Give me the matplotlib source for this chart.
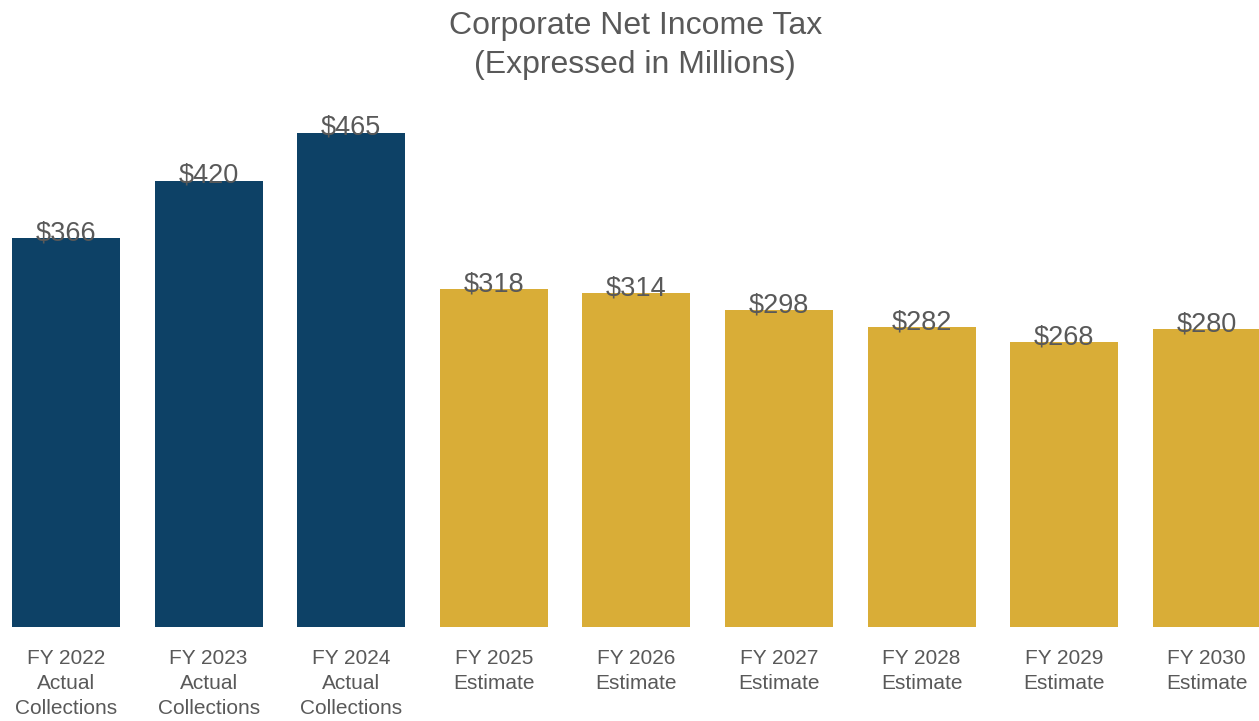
import matplotlib
matplotlib.use("Agg")
import matplotlib.pyplot as plt

# Corporate net income tax collections and estimates, in millions of dollars
years = ["FY 2022", "FY 2023", "FY 2024", "FY 2025", "FY 2026",
         "FY 2027", "FY 2028", "FY 2029", "FY 2030"]
kinds = ["Actual\nCollections", "Actual\nCollections", "Actual\nCollections",
         "Estimate", "Estimate", "Estimate", "Estimate", "Estimate", "Estimate"]
values = [366, 420, 465, 318, 314, 298, 282, 268, 280]
is_actual = [True, True, True, False, False, False, False, False, False]

ACTUAL_COLOR = "#0D4166"
ESTIMATE_COLOR = "#D9AD37"
TEXT_COLOR = "#595959"
FONT = ["Liberation Sans", "DejaVu Sans"]

plt.rcParams["font.family"] = FONT

fig = plt.figure(figsize=(12.59, 7.21), dpi=100)
ax = fig.add_axes([0.0, 0.1304, 1.0, 0.737])

labels = [f"{y}\n{k}" for y, k in zip(years, kinds)]
colors = [ACTUAL_COLOR if a else ESTIMATE_COLOR for a in is_actual]
x = list(range(len(values)))

bars = ax.bar(x, values, width=0.757, color=colors, zorder=2)

for b, v in zip(bars, values):
    ax.annotate(f"${v}", (b.get_x() + b.get_width() / 2, v),
                xytext=(0, -1.5), textcoords="offset points",
                ha="center", va="baseline", fontsize=19.5, color=TEXT_COLOR)

ax.set_xlim(-0.463, 8.366)
ax.set_ylim(0, 500)
ax.set_xticks(x)
ax.set_xticklabels(labels, fontsize=15, color=TEXT_COLOR, linespacing=1.38,
                   va="top")
ax.tick_params(axis="x", length=0, pad=16)
ax.set_yticks([])
for s in ax.spines.values():
    s.set_visible(False)

fig.text(0.5045, 0.985, "Corporate Net Income Tax\n(Expressed in Millions)",
         ha="center", va="top", fontsize=23, color=TEXT_COLOR,
         linespacing=1.38)

fig.savefig("out.png", dpi=100)
